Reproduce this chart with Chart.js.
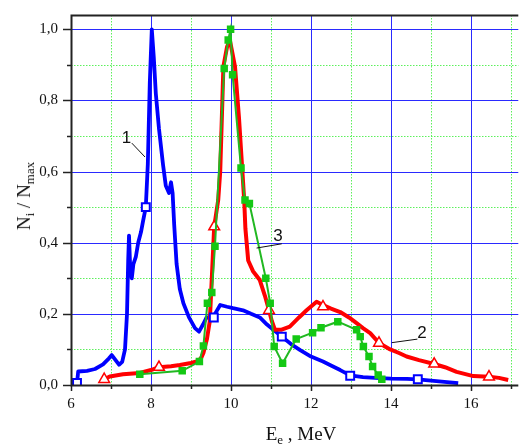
<!DOCTYPE html>
<html>
<head>
<meta charset="utf-8">
<script src="https://cdn.jsdelivr.net/npm/chart.js@4.4.1/dist/chart.umd.min.js"></script>
<style>
  html, body { margin: 0; padding: 0; background: #fff; }
  #wrap { position: relative; width: 526px; height: 444px; overflow: hidden; }
  #ytitle { position: absolute; left: 24px; top: 196px; transform: translate(-50%, -50%) rotate(-90deg);
            white-space: nowrap; font: 19px "Liberation Serif", "Times New Roman", serif; color: #111; }
  #xtitle { position: absolute; left: 301px; top: 423px; transform: translateX(-50%);
            white-space: nowrap; font: 19px "Liberation Serif", "Times New Roman", serif; color: #111; }
  sub { font-size: 13px; vertical-align: -4px; line-height: 0; }
</style>
</head>
<body>
<div id="wrap">
  <canvas id="chart" width="526" height="444"></canvas>
  <div id="ytitle">N<sub>i</sub> / N<sub>max</sub></div>
  <div id="xtitle">E<sub>e</sub> , MeV</div>
</div>
<script>
// curve 1 (blue)
var blueX = [6.15, 6.18, 6.4, 6.6, 6.8, 6.95, 7.02, 7.1, 7.2, 7.28, 7.35, 7.4, 7.43, 7.45, 7.48, 7.52, 7.56, 7.62, 7.68, 7.75,
             7.8, 7.87, 7.92, 7.97, 8.02, 8.07, 8.12, 8.2, 8.3, 8.37, 8.45, 8.5, 8.54, 8.58, 8.64, 8.72, 8.81, 8.95, 9.1, 9.2,
             9.3, 9.39, 9.5, 9.6, 9.73, 9.9, 10.05, 10.3, 10.5, 10.72, 10.9, 11.06, 11.27, 11.5, 11.73, 12.0, 12.3, 12.5, 12.73, 12.98,
             13.3, 13.6, 14.0, 14.4, 14.67, 15.0, 15.4, 15.68];
var blueY = [0.006, 0.038, 0.040, 0.045, 0.058, 0.075, 0.084, 0.072, 0.057, 0.065, 0.10, 0.20, 0.35, 0.42, 0.33, 0.30, 0.34, 0.36, 0.40, 0.43,
             0.46, 0.50, 0.62, 0.85, 1.0, 0.92, 0.82, 0.72, 0.62, 0.56, 0.54, 0.57, 0.54, 0.45, 0.34, 0.27, 0.23, 0.19, 0.16, 0.15,
             0.17, 0.19, 0.19, 0.20, 0.225, 0.22, 0.216, 0.21, 0.20, 0.19, 0.17, 0.155, 0.136, 0.115, 0.098, 0.08, 0.066, 0.055, 0.042, 0.027,
             0.022, 0.020, 0.018, 0.017, 0.016, 0.012, 0.008, 0.005];
var blueMarkX = [6.15, 7.87, 9.57, 11.27, 12.98, 14.67];
var blueMarkY = [0.006, 0.50, 0.19, 0.136, 0.026, 0.016];

// curve 2 (red)
var redX = [6.83, 6.97, 7.3, 7.72, 8.0, 8.2, 8.5, 8.72, 9.0, 9.14, 9.25, 9.31, 9.4, 9.47, 9.52, 9.58, 9.68, 9.73, 9.81, 9.9,
            9.97, 10.04, 10.1, 10.2, 10.33, 10.36, 10.43, 10.55, 10.72, 10.85, 10.95, 11.02, 11.1, 11.25, 11.47, 11.7, 11.89, 12.14, 12.3, 12.5,
            12.73, 12.95, 13.14, 13.3, 13.48, 13.7, 13.98, 14.2, 14.39, 14.7, 15.08, 15.35, 15.64, 16.06, 16.45, 16.7, 16.93];
var redY = [0.016, 0.024, 0.030, 0.034, 0.042, 0.050, 0.053, 0.056, 0.062, 0.066, 0.075, 0.09, 0.13, 0.18, 0.30, 0.445, 0.52, 0.60, 0.895, 0.95,
            0.97, 0.93, 0.895, 0.75, 0.52, 0.44, 0.35, 0.32, 0.295, 0.25, 0.21, 0.18, 0.155, 0.155, 0.164, 0.19, 0.21, 0.234, 0.225, 0.215,
            0.205, 0.19, 0.174, 0.16, 0.146, 0.118, 0.10, 0.09, 0.08, 0.07, 0.059, 0.05, 0.037, 0.025, 0.023, 0.02, 0.014];
var redMarkX = [6.83, 8.2, 9.58, 10.95, 12.3, 13.7, 15.08, 16.45];
var redMarkY = [0.016, 0.05, 0.445, 0.21, 0.22, 0.118, 0.059, 0.023];

// curve 3 (green)
var greenX = [7.72, 8.78, 9.21, 9.31, 9.41, 9.52, 9.6, 9.83, 9.93, 9.99, 10.04, 10.25, 10.35, 10.46, 10.87, 10.98, 11.08, 11.29, 11.63, 12.04,
              12.25, 12.67, 13.14, 13.23, 13.31, 13.45, 13.54, 13.68, 13.77];
var greenY = [0.03, 0.04, 0.066, 0.11, 0.23, 0.26, 0.39, 0.89, 0.97, 1.0, 0.872, 0.61, 0.52, 0.51, 0.30, 0.23, 0.108, 0.061, 0.129, 0.147,
              0.161, 0.178, 0.155, 0.136, 0.108, 0.08, 0.052, 0.028, 0.016];

// curve numbers with leader lines
var labelText = ["1", "3", "2"];
var labelX = [7.39, 11.175, 14.775];
var labelY = [0.693, 0.417, 0.144];

var xMin = 6, xMax = 17.375;
var yMin = 0, yMax = 1.05;

function pts(xs, ys) {
  return xs.map(function(x, i) { return {x: x, y: ys[i]}; });
}

function isStep(v, s) { return Math.abs(v / s - Math.round(v / s)) < 1e-6; }
function isMajorX(v) { return isStep(v, 2); }
function isMajorY(v) { return isStep(v, 0.2); }

var leaders = [
  [7.52, 0.68, 7.85, 0.641],
  [10.64, 0.385, 11.27, 0.397],
  [14.02, 0.119, 14.66, 0.129]
];

var framePlugin = {
  id: "frame",
  beforeDatasetsDraw: function(chart) {
    var ctx = chart.ctx, a = chart.chartArea;
    var xs = chart.scales.x, ys = chart.scales.y;
    ctx.save();
    // minor grid (green dotted)
    ctx.lineWidth = 1;
    ctx.strokeStyle = "#5cf05c";
    ctx.setLineDash([1.5, 1.5]);
    xs.ticks.forEach(function(t) {
      if (!isStep(t.value, 1) || isMajorX(t.value) || t.value === xMin) return;
      var px = Math.round(xs.getPixelForValue(t.value)) + 0.5;
      ctx.beginPath(); ctx.moveTo(px, a.top); ctx.lineTo(px, a.bottom); ctx.stroke();
    });
    ys.ticks.forEach(function(t) {
      if (!isStep(t.value, 0.1) || isMajorY(t.value)) return;
      var py = Math.round(ys.getPixelForValue(t.value)) + 0.5;
      ctx.beginPath(); ctx.moveTo(a.left, py); ctx.lineTo(a.right, py); ctx.stroke();
    });
    // major grid (blue)
    ctx.setLineDash([]);
    ctx.strokeStyle = "#2a2aff";
    xs.ticks.forEach(function(t) {
      if (!isMajorX(t.value) || t.value === xMin) return;
      var px = Math.round(xs.getPixelForValue(t.value)) + 0.5;
      ctx.beginPath(); ctx.moveTo(px, a.top); ctx.lineTo(px, a.bottom); ctx.stroke();
    });
    ys.ticks.forEach(function(t) {
      if (!isMajorY(t.value) || t.value === yMin) return;
      var py = Math.round(ys.getPixelForValue(t.value)) + 0.5;
      ctx.beginPath(); ctx.moveTo(a.left, py); ctx.lineTo(a.right, py); ctx.stroke();
    });
    ctx.restore();
  },
  afterDatasetsDraw: function(chart) {
    var ctx = chart.ctx, a = chart.chartArea;
    var xs = chart.scales.x, ys = chart.scales.y;
    ctx.save();
    ctx.strokeStyle = "#222";
    ctx.lineWidth = 1.5;
    // ticks
    xs.ticks.forEach(function(t) {
      if (!isStep(t.value, 1)) return;
      var px = Math.round(xs.getPixelForValue(t.value)) + 0.5;
      var len = isMajorX(t.value) ? 6 : 4;
      ctx.beginPath(); ctx.moveTo(px, a.bottom); ctx.lineTo(px, a.bottom + len); ctx.stroke();
    });
    ys.ticks.forEach(function(t) {
      if (!isStep(t.value, 0.1)) return;
      var py = Math.round(ys.getPixelForValue(t.value)) + 0.5;
      var len = isMajorY(t.value) ? 8 : 4;
      ctx.beginPath(); ctx.moveTo(a.left - len, py); ctx.lineTo(a.left, py); ctx.stroke();
    });
    // frame: left, top, bottom
    ctx.lineWidth = 2;
    ctx.beginPath();
    ctx.moveTo(a.right, a.top + 0.5);
    ctx.lineTo(a.left + 0.5, a.top + 0.5);
    ctx.lineTo(a.left + 0.5, a.bottom + 0.5);
    ctx.lineTo(a.right, a.bottom + 0.5);
    ctx.stroke();
    // curve numbers
    ctx.lineWidth = 1;
    ctx.strokeStyle = "#111";
    leaders.forEach(function(l) {
      ctx.beginPath();
      ctx.moveTo(xs.getPixelForValue(l[0]), ys.getPixelForValue(l[1]));
      ctx.lineTo(xs.getPixelForValue(l[2]), ys.getPixelForValue(l[3]));
      ctx.stroke();
    });
    ctx.fillStyle = "#111";
    ctx.font = "17px 'Liberation Sans', sans-serif";
    ctx.textAlign = "center";
    ctx.textBaseline = "middle";
    labelText.forEach(function(s, i) {
      ctx.fillText(s, xs.getPixelForValue(labelX[i]), ys.getPixelForValue(labelY[i]));
    });
    ctx.restore();
  }
};

var tickFont = {family: "Liberation Serif", size: 15};

var chart = new Chart(document.getElementById("chart"), {
  type: "scatter",
  data: {
    datasets: [
      {
        label: "3", data: pts(greenX, greenY), showLine: true,
        borderColor: "#22b822", borderWidth: 2, backgroundColor: "#14c814",
        pointStyle: "rect", pointRadius: 5.3, pointBorderWidth: 0, order: 1
      },
      {
        label: "2 markers", data: pts(redMarkX, redMarkY), showLine: false,
        pointStyle: "triangle", pointRadius: 6.2, borderColor: "#ff0000", backgroundColor: "#ffffff",
        pointBorderWidth: 1.5, order: 2
      },
      {
        label: "1 markers", data: pts(blueMarkX, blueMarkY), showLine: false,
        pointStyle: "rect", pointRadius: 5.6, borderColor: "#0000ff", backgroundColor: "#ffffff",
        pointBorderWidth: 2, order: 3
      },
      {
        label: "2", data: pts(redX, redY), showLine: true,
        borderColor: "#ff0000", borderWidth: 4, pointRadius: 0, borderJoinStyle: "round", order: 4
      },
      {
        label: "1", data: pts(blueX, blueY), showLine: true,
        borderColor: "#0000ff", borderWidth: 3.8, pointRadius: 0, borderJoinStyle: "round", order: 5
      }
    ]
  },
  options: {
    responsive: false,
    animation: false,
    layout: {padding: {top: 12, right: 0, left: 0, bottom: 0}},
    plugins: {legend: {display: false}, tooltip: {enabled: false}},
    scales: {
      x: {
        type: "linear", min: xMin, max: xMax,
        grid: {color: "rgba(0,0,0,0)", drawTicks: true, tickLength: 5},
        border: {display: false},
        ticks: {
          stepSize: 1, autoSkip: false, includeBounds: false, maxRotation: 0, padding: 5, color: "#111", font: tickFont,
          callback: function(v) { return isMajorX(v) ? String(v) : ""; }
        },
        afterFit: function(s) { s.height = 59; }
      },
      y: {
        type: "linear", min: yMin, max: yMax,
        grid: {color: "rgba(0,0,0,0)", drawTicks: true, tickLength: 7},
        border: {display: false},
        ticks: {
          stepSize: 0.1, autoSkip: false, includeBounds: false, padding: 6, color: "#111", font: tickFont,
          callback: function(v) { return isMajorY(v) ? v.toFixed(1).replace(".", ",") : ""; }
        },
        afterFit: function(s) { s.width = 71; }
      }
    }
  },
  plugins: [framePlugin]
});

// keep 40 px per MeV, 355.7 px per unit of N, and the top frame at y = 12
for (var k = 0; k < 3; k++) {
  var area = chart.chartArea;
  chart.options.layout.padding.top += 12 - area.top;
  chart.options.scales.x.max = xMin + (area.right - area.left) / 40;
  chart.update();
  area = chart.chartArea;
  chart.options.scales.y.max = (area.bottom - area.top) / 355.7;
  chart.update();
}
</script>
</body>
</html>
